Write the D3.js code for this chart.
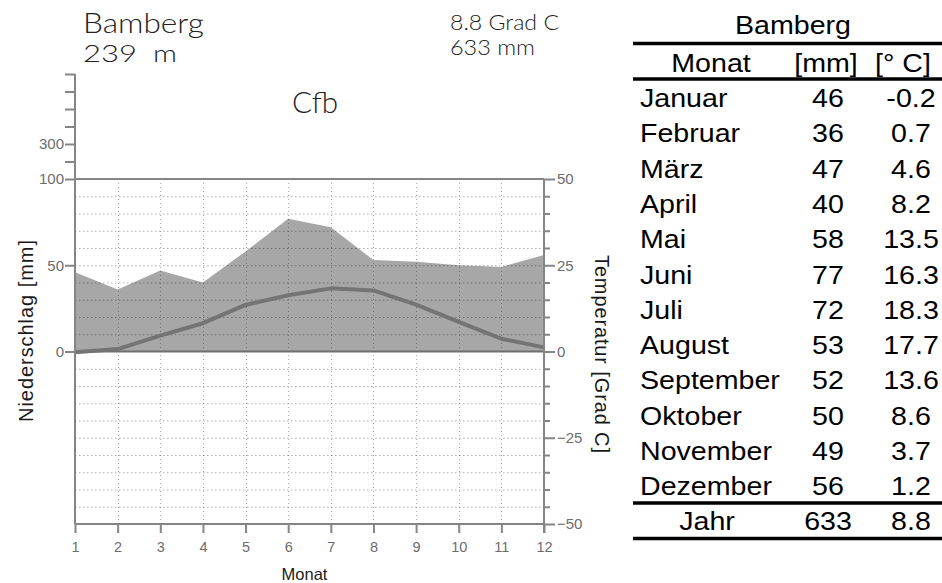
<!DOCTYPE html>
<html>
<head>
<meta charset="utf-8">
<script src="https://cdn.jsdelivr.net/npm/d3@7"></script>
<style>
  html, body { margin: 0; padding: 0; background: #fff; }
  svg { display: block; }
</style>
</head>
<body>
<svg id="chart" width="942" height="583"></svg>
<script>
// Climate data for Bamberg
const station = "Bamberg";
const elevation = "239 m";
const climateClass = "Cfb";
const months = [1, 2, 3, 4, 5, 6, 7, 8, 9, 10, 11, 12];
const monthNames = ["Januar", "Februar", "März", "April", "Mai", "Juni", "Juli",
                    "August", "September", "Oktober", "November", "Dezember"];
const precipitation = [46, 36, 47, 40, 58, 77, 72, 53, 52, 50, 49, 56];
const temperature = [-0.2, 0.7, 4.6, 8.2, 13.5, 16.3, 18.3, 17.7, 13.6, 8.6, 3.7, 1.2];
const annualLabel = "Jahr";
const annualPrecip = 633;
const annualTemp = 8.8;

// Axis ticks
const precipTicks = [0, 50, 100, 200, 300, 400, 500, 600, 700];
const precipTickLabels = { 0: "0", 50: "50", 100: "100", 300: "300" };
const tempMajorTicks = [-50, -25, 0, 25, 50];
const tempMinorTicks = [-45, -40, -35, -30, -20, -15, -10, -5, 5, 10, 15, 20, 30, 35, 40, 45];
const gridTemps = [-45, -40, -35, -30, -25, -20, -15, -10, -5, 5, 10, 15, 20, 25, 30, 35, 40, 45];

const svg = d3.select("#chart");

// Scales: temperature on the right, precipitation on the left (10 mm = 5 °C up to 100 mm,
// then compressed above 100 mm)
const x = d3.scaleLinear().domain([1, 12]).range([75, 544]);
const yT = d3.scaleLinear().domain([-50, 50]).range([524, 179]);
const yP = d3.scaleLinear().domain([0, 100, 700]).range([yT(0), yT(50), 74]);

const axisGray = "#858585";
const labelGray = "#6c6c6c";
const tickFont = "'Liberation Sans', Arial, sans-serif";

// Precipitation area
const area = d3.area()
  .x((d, i) => x(months[i]))
  .y0(yT(0))
  .y1(d => yP(d));
svg.append("path")
  .datum(precipitation)
  .attr("d", area)
  .attr("fill", "#a7a7a7");

// Dotted grid
const grid = svg.append("g")
  .attr("stroke", "rgba(0,0,0,0.32)")
  .attr("stroke-width", 1);
grid.selectAll("line.h").data(gridTemps).join("line")
  .attr("class", "h")
  .attr("x1", x(1)).attr("x2", x(12))
  .attr("y1", d => yT(d) + 0.5).attr("y2", d => yT(d) + 0.5)
  .attr("stroke-dasharray", "1.5,2.5");
grid.selectAll("line.v").data(months.slice(1, -1)).join("line")
  .attr("class", "v")
  .attr("x1", d => Math.round(x(d)) + 0.5).attr("x2", d => Math.round(x(d)) + 0.5)
  .attr("y1", yT(50)).attr("y2", yT(-50))
  .attr("stroke-dasharray", "1,3");

// Frame lines: top, zero, bottom
svg.selectAll("line.frame").data([50, 0, -50]).join("line")
  .attr("class", "frame")
  .attr("x1", x(1)).attr("x2", x(12))
  .attr("y1", d => yT(d)).attr("y2", d => yT(d))
  .attr("stroke", d => d === 0 ? "#6f6f6f" : axisGray)
  .attr("stroke-width", 2);

// Temperature line
const line = d3.line()
  .x((d, i) => x(months[i]))
  .y(d => yT(d));
svg.append("path")
  .datum(temperature)
  .attr("d", line)
  .attr("fill", "none")
  .attr("stroke", "#747474")
  .attr("stroke-width", 4)
  .attr("stroke-linejoin", "round");

function styleAxis(g) {
  g.select(".domain").remove();
  g.selectAll(".tick line").attr("stroke", axisGray).attr("stroke-width", 2);
  g.selectAll(".tick text")
    .attr("fill", labelGray)
    .style("font-family", tickFont)
    .style("font-size", "15px");
}

// Left precipitation axis
svg.append("line")
  .attr("x1", x(1)).attr("x2", x(1))
  .attr("y1", yP(700)).attr("y2", yT(-50))
  .attr("stroke", axisGray).attr("stroke-width", 2);
svg.append("g")
  .attr("transform", `translate(${x(1)},0)`)
  .call(d3.axisLeft(yP).tickValues(precipTicks).tickSize(10).tickPadding(1)
    .tickFormat(d => precipTickLabels[d] || ""))
  .call(styleAxis);

// Right temperature axis
svg.append("line")
  .attr("x1", x(12)).attr("x2", x(12))
  .attr("y1", yT(50)).attr("y2", yT(-50) + 9)
  .attr("stroke", axisGray).attr("stroke-width", 2);
svg.append("g")
  .attr("transform", `translate(${x(12)},0)`)
  .call(d3.axisRight(yT).tickValues(tempMinorTicks).tickSize(6).tickFormat(""))
  .call(styleAxis);
svg.append("g")
  .attr("transform", `translate(${x(12)},0)`)
  .call(d3.axisRight(yT).tickValues(tempMajorTicks).tickSize(11).tickPadding(2))
  .call(styleAxis);

// Month axis
svg.append("g")
  .attr("transform", `translate(0,${yT(-50)})`)
  .call(d3.axisBottom(x).tickValues(months).tickSize(9).tickPadding(9)
    .tickFormat(d3.format("d")))
  .call(styleAxis)
  .call(g => g.selectAll(".tick text").style("font-size", "14.5px"));

// Axis titles
svg.append("text")
  .attr("transform", "translate(33,331) rotate(-90)")
  .attr("text-anchor", "middle")
  .attr("textLength", 182).attr("lengthAdjust", "spacing")
  .style("font-family", tickFont).style("font-size", "20px")
  .attr("fill", "#1a1a1a")
  .text("Niederschlag [mm]");
svg.append("text")
  .attr("transform", "translate(595,354) rotate(90)")
  .attr("text-anchor", "middle")
  .attr("textLength", 198).attr("lengthAdjust", "spacing")
  .style("font-family", tickFont).style("font-size", "20px")
  .attr("fill", "#1a1a1a")
  .text("Temperatur [Grad C]");
svg.append("text")
  .attr("x", 304.5).attr("y", 580)
  .attr("text-anchor", "middle")
  .style("font-family", tickFont).style("font-size", "16.5px")
  .attr("fill", "#1a1a1a")
  .text("Monat");

// Station header
const headFont = "Lato, 'Open Sans', sans-serif";
const [elevValue, elevUnit] = elevation.split(" ");
const header = [
  { text: station, x: 83, y: 33, size: 28, len: 121 },
  { text: elevValue, x: 83, y: 62, size: 22.5, len: 54 },
  { text: elevUnit, x: 153, y: 62, size: 22.5, len: 24 },
  { text: `${annualTemp} Grad C`, x: 450, y: 30, size: 21, len: 109 },
  { text: `${annualPrecip} mm`, x: 450, y: 55, size: 21, len: 85 },
  { text: climateClass, x: 292, y: 113, size: 29, len: 46 }
];
svg.selectAll("text.head").data(header).join("text")
  .attr("class", "head")
  .attr("x", d => d.x).attr("y", d => d.y)
  .attr("textLength", d => d.len).attr("lengthAdjust", "spacingAndGlyphs")
  .style("font-family", headFont).style("font-weight", 300)
  .style("font-size", d => d.size + "px")
  .attr("fill", "#222")
  .text(d => d.text);

// Data table
const table = svg.append("g")
  .style("font-family", tickFont)
  .style("font-size", "26px")
  .attr("fill", "#000");
const colMonth = 640, colMm = 828, colTemp = 911;
const rowY = i => 107 + i * 35.3;
function cell(txt, cx, cy, anchor) {
  table.append("text")
    .attr("transform", `translate(${cx},${cy}) scale(1.1,1)`)
    .attr("text-anchor", anchor)
    .text(txt);
}
cell(station, 793, 34, "middle");
cell("Monat", 711, 72, "middle");
cell("[mm]", 826, 72, "middle");
cell("[° C]", 903, 72, "middle");
monthNames.forEach((m, i) => {
  cell(m, colMonth, rowY(i), "start");
  cell(String(precipitation[i]), colMm, rowY(i), "middle");
  cell(temperature[i].toFixed(1), colTemp, rowY(i), "middle");
});
cell(annualLabel, 707, 530, "middle");
cell(String(annualPrecip), colMm, 530, "middle");
cell(annualTemp.toFixed(1), colTemp, 530, "middle");

table.selectAll("line.rule").data([43.5, 79, 503, 538.5]).join("line")
  .attr("class", "rule")
  .attr("x1", 633).attr("x2", 942)
  .attr("y1", d => d).attr("y2", d => d)
  .attr("stroke", "#000").attr("stroke-width", 3.5);
</script>
</body>
</html>
